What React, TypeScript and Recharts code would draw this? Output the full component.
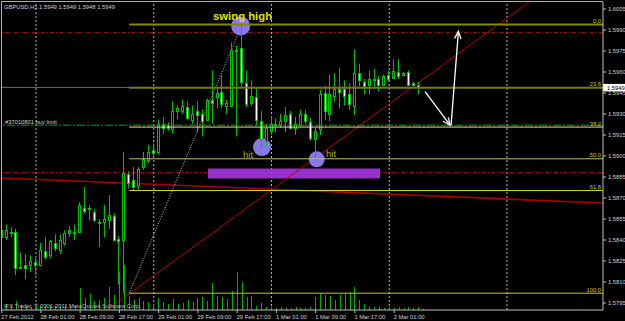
import React from 'react';
import { ComposedChart, Bar, XAxis, YAxis, ReferenceLine, ReferenceArea, ReferenceDot } from 'recharts';

// ---- data (hours since 27 Feb 2012 00:00, H1 bars) ----
const hours = [
  17, 18, 19, 20, 21, 22, 23, 24, 25, 26, 27, 28, 29, 30, 31, 32, 33, 34, 35, 36,
  37, 38, 39, 40, 41, 42, 43, 44, 45, 46, 47, 48, 49, 50, 51, 52, 53, 54, 55, 56,
  57, 58, 59, 60, 61, 62, 63, 64, 65, 66, 67, 68, 69, 70, 71, 72, 73, 74, 75, 76,
  77, 78, 79, 80, 81, 82, 83, 84, 85, 86, 87, 88, 89, 90, 91, 92, 93, 94, 95, 96,
  97, 98, 99, 100, 101, 102, 103,
];
const opens = [
  1.5847, 1.5842, 1.5845, 1.5846, 1.5820, 1.5822, 1.5822, 1.5824, 1.5822, 1.5832,
  1.5829, 1.5838, 1.5833, 1.5838, 1.5845, 1.5846, 1.5846, 1.5863, 1.5863, 1.5860,
  1.5853, 1.5853, 1.5854, 1.5857, 1.5841, 1.5840, 1.5887, 1.5883, 1.5879, 1.5892,
  1.5897, 1.5904, 1.5903, 1.5923, 1.5922, 1.5919, 1.5932, 1.5932, 1.5935, 1.5926,
  1.5932, 1.5930, 1.5926, 1.5940, 1.5942, 1.5946, 1.5936, 1.5936, 1.5976, 1.5977,
  1.5952, 1.5938, 1.5942, 1.5925, 1.5911, 1.5918, 1.5923, 1.5922, 1.5925, 1.5930,
  1.5920, 1.5922, 1.5930, 1.5924, 1.5912, 1.5919, 1.5945, 1.5930, 1.5943, 1.5948,
  1.5948, 1.5944, 1.5936, 1.5959, 1.5953, 1.5951, 1.5955, 1.5955, 1.5951, 1.5958,
  1.5956, 1.5960, 1.5958, 1.5960, 1.5952, 1.5951, 1.5949,
];
const highs = [
  1.5865, 1.5851, 1.5849, 1.5848, 1.5831, 1.5830, 1.5829, 1.5827, 1.5838, 1.5842,
  1.5840, 1.5844, 1.5844, 1.5847, 1.5850, 1.5851, 1.5867, 1.5878, 1.5865, 1.5862,
  1.5855, 1.5865, 1.5872, 1.5859, 1.5843, 1.5903, 1.5889, 1.5892, 1.5892, 1.5903,
  1.5908, 1.5909, 1.5926, 1.5928, 1.5924, 1.5939, 1.5936, 1.5940, 1.5939, 1.5936,
  1.5939, 1.5933, 1.5941, 1.5961, 1.5948, 1.5958, 1.5940, 1.5981, 1.5979, 1.5994,
  1.5961, 1.5954, 1.5948, 1.5932, 1.5923, 1.5928, 1.5927, 1.5930, 1.5935, 1.5932,
  1.5928, 1.5933, 1.5933, 1.5927, 1.5920, 1.5947, 1.5950, 1.5958, 1.5959, 1.5963,
  1.5954, 1.5952, 1.5976, 1.5966, 1.5955, 1.5961, 1.5962, 1.5957, 1.5958, 1.5961,
  1.5969, 1.5969, 1.5960, 1.5961, 1.5953, 1.5953, 1.5949,
];
const lows = [
  1.5840, 1.5840, 1.5842, 1.5815, 1.5819, 1.5812, 1.5817, 1.5815, 1.5821, 1.5826,
  1.5827, 1.5832, 1.5830, 1.5836, 1.5842, 1.5840, 1.5845, 1.5859, 1.5854, 1.5853,
  1.5835, 1.5842, 1.5848, 1.5839, 1.5808, 1.5802, 1.5877, 1.5875, 1.5876, 1.5890,
  1.5895, 1.5900, 1.5901, 1.5916, 1.5918, 1.5916, 1.5926, 1.5930, 1.5926, 1.5923,
  1.5917, 1.5914, 1.5925, 1.5923, 1.5934, 1.5934, 1.5930, 1.5935, 1.5914, 1.5949,
  1.5935, 1.5936, 1.5922, 1.5906, 1.5907, 1.5915, 1.5917, 1.5920, 1.5917, 1.5919,
  1.5915, 1.5921, 1.5923, 1.5911, 1.5897, 1.5915, 1.5926, 1.5925, 1.5939, 1.5934,
  1.5936, 1.5933, 1.5929, 1.5950, 1.5944, 1.5944, 1.5948, 1.5946, 1.5950, 1.5953,
  1.5955, 1.5955, 1.5957, 1.5950, 1.5950, 1.5944, 1.5948,
];
const closes = [
  1.5842, 1.5847, 1.5846, 1.5820, 1.5821, 1.5820, 1.5825, 1.5822, 1.5833, 1.5828,
  1.5839, 1.5834, 1.5840, 1.5845, 1.5847, 1.5845, 1.5865, 1.5861, 1.5862, 1.5854,
  1.5852, 1.5855, 1.5858, 1.5840, 1.5839, 1.5888, 1.5881, 1.5878, 1.5891, 1.5898,
  1.5903, 1.5902, 1.5923, 1.5920, 1.5920, 1.5932, 1.5934, 1.5936, 1.5927, 1.5930,
  1.5929, 1.5925, 1.5940, 1.5938, 1.5945, 1.5937, 1.5938, 1.5976, 1.5975, 1.5953,
  1.5937, 1.5943, 1.5926, 1.5912, 1.5920, 1.5923, 1.5922, 1.5925, 1.5929, 1.5920,
  1.5923, 1.5930, 1.5925, 1.5913, 1.5918, 1.5944, 1.5932, 1.5944, 1.5948, 1.5946,
  1.5943, 1.5937, 1.5959, 1.5954, 1.5950, 1.5955, 1.5954, 1.5951, 1.5957, 1.5955,
  1.5961, 1.5957, 1.5959, 1.5951, 1.5951, 1.5949, 1.5949,
];
const volumes = [
  210, 60, 40, 90, 50, 40, 30, 30, 50, 40, 50, 40, 40, 50, 30, 40, 220, 120, 160, 90,
  100, 120, 230, 150, 380, 450, 140, 100, 120, 90, 80, 60, 120, 80, 60, 110, 60, 70, 100, 80,
  120, 130, 90, 270, 140, 130, 110, 190, 380, 280, 130, 140, 40, 70, 30, 30, 20, 30, 20, 20,
  30, 20, 20, 30, 130, 170, 150, 140, 100, 150, 170, 180, 230, 100, 60, 40, 30, 30, 20, 30,
  20, 30, 20, 30, 20, 30, 10,
];

const timeTicks = [17, 25, 33, 41, 49, 57, 65, 73, 81, 89, 97];
const timeLabels = [
  '27 Feb 2012', '28 Feb 01:00', '28 Feb 09:00', '28 Feb 17:00', '29 Feb 01:00', '29 Feb 09:00',
  '29 Feb 17:00', '1 Mar 01:00', '1 Mar 09:00', '1 Mar 17:00', '2 Mar 01:00',
];
const priceTicks = [
  1.5795, 1.581, 1.5825, 1.584, 1.5855, 1.587, 1.5885, 1.59, 1.5915, 1.593, 1.5945, 1.596,
  1.5975, 1.599, 1.6005,
];
const dayStarts = [24, 48, 72, 96, 120];

// Fibonacci retracement anchors
const fibLowTime = 43;
const fibHighTime = 66;
const fibLow = 1.5802;
const fibHigh = 1.5994;
const fibRatios = [0, 23.6, 38.2, 50, 61.8, 100];
const fibColors = ['#8a8a00', '#7a7a0a', '#e0e096', '#bcbc6c', '#d4d428', '#c8c820'];
const fibWidths = [2, 2, 1, 1, 1, 1];

// Horizontal lines
const redLevels = [1.5988, 1.5888];
const buyLimit = 1.5922;
const bid = 1.5949;

// Other objects (time, price)
const trendLine = [{ x: 38, y: 1.57888 }, { x: 126, y: 1.60139 }];
const slowLine = [{ x: 17.07, y: 1.58843 }, { x: 139.57, y: 1.58664 }];
const zone = { x1: 59.06, x2: 94.12, y1: 1.5884, y2: 1.5891 };
const circles = [
  { x: 65.72, y: 1.59929, r: 9.5 },
  { x: 70.07, y: 1.59064, r: 9 },
  { x: 81.22, y: 1.58976, r: 8 },
];
const arrows = [
  [{ x: 103.3, y: 1.5946 }, { x: 108.4, y: 1.5922 }],
  [{ x: 108.6, y: 1.5922 }, { x: 110.1, y: 1.5989 }],
];
const notes = [
  { x: 66.1, y: 1.59975, text: 'swing high', kind: 'title' },
  { x: 66.19, y: 1.58986, text: 'hit', kind: 'hit' },
  { x: 83.11, y: 1.58993, text: 'hit', kind: 'hit' },
];

const xMin = 17.07;
const xMax = 139.57;

const data = hours.map((t, i) => ({
  t,
  open: opens[i],
  high: highs[i],
  low: lows[i],
  close: closes[i],
  range: [lows[i], highs[i]],
  vol: volumes[i],
}));

const FONT = "'Liberation Sans', Arial, sans-serif";
const WICK = '#00c000';
const TXT = '#d0d0d0';

const Candle = (props: any) => {
  const { x, y, width, height, payload } = props;
  if (!payload || !Number.isFinite(x) || !Number.isFinite(y)) return null;
  const { open, close, high, low } = payload;
  const c = Math.floor(x + width / 2);
  const span = high - low;
  const py = (v: number) => (span > 0 ? y + ((high - v) / span) * height : y);
  const top = Math.round(py(Math.max(open, close))) + 0.5;
  const bot = Math.round(py(Math.min(open, close))) + 0.5;
  const bull = close > open;
  return (
    <g>
      <line x1={c + 0.5} x2={c + 0.5} y1={y} y2={y + Math.max(height, 1)} stroke={WICK} strokeWidth={1} />
      {bot - top >= 1 ? (
        <rect x={c - 0.5} y={top} width={2} height={bot - top} fill={bull ? '#000' : '#fff'} stroke={WICK} strokeWidth={1} />
      ) : (
        <line x1={c - 1} x2={c + 2} y1={top} y2={top} stroke={WICK} strokeWidth={1} />
      )}
    </g>
  );
};

const VolBar = (props: any) => {
  const { x, y, width, height } = props;
  if (!Number.isFinite(x) || !Number.isFinite(y)) return null;
  const c = Math.floor(x + width / 2);
  return <rect x={c} y={y} width={1} height={Math.max(height, 0)} fill="#00b000" />;
};

const TimeTick = (props: any) => {
  const { x, y, payload } = props;
  const idx = timeTicks.indexOf(payload.value);
  return (
    <g>
      <line x1={x} x2={x} y1={y - 2} y2={y + 1} stroke="#c0c0c0" />
      <text x={x - 0.5} y={y + 6.8} fontSize={5.8} fill={TXT} fontFamily={FONT}>
        {timeLabels[idx]}
      </text>
    </g>
  );
};

const fibShape = (label: string, color: string, w: number) => (p: any) => (
  <g>
    <line x1={p.x1} y1={p.y1} x2={p.x2} y2={p.y2} stroke={color} strokeWidth={w} />
    <text x={p.x2 - 2} y={p.y1 - 1.5} textAnchor="end" fontSize={5.8} fill="#c8c800" fontFamily={FONT}>
      {label}
    </text>
  </g>
);

const arrowShape = (p: any) => {
  const { x1, y1, x2, y2 } = p;
  const a = Math.atan2(y2 - y1, x2 - x1);
  const L = 8;
  const s = 0.42;
  const ax = x2 - L * Math.cos(a - s);
  const ay = y2 - L * Math.sin(a - s);
  const bx = x2 - L * Math.cos(a + s);
  const by = y2 - L * Math.sin(a + s);
  return (
    <g>
      <line x1={x1} y1={y1} x2={x2} y2={y2} stroke="#ffffff" strokeWidth={1.3} />
      <polyline points={`${ax},${ay} ${x2},${y2} ${bx},${by}`} fill="none" stroke="#ffffff" strokeWidth={1.3} />
    </g>
  );
};

const noteShape = (text: string, kind: string) => (p: any) =>
  kind === 'title' ? (
    <text x={p.cx} y={p.cy} textAnchor="middle" fontSize={11.3} fontWeight="bold" fill="#e0e000" fontFamily={FONT}>
      {text}
    </text>
  ) : (
    <text x={p.cx} y={p.cy} textAnchor="start" fontSize={9.5} fill="#a8a818" fontFamily={FONT}>
      {text}
    </text>
  );

const OrderLabel = (props: any) => {
  const vb = props.viewBox || {};
  return (
    <text x={(vb.x || 0) + 3} y={(vb.y || 0) - 1.5} fontSize={5.8} fill={TXT} fontFamily={FONT}>
      #37010801 buy limit
    </text>
  );
};

const PriceBox = (props: any) => {
  const vb = props.viewBox || {};
  const rx = (vb.x || 0) + (vb.width || 0);
  const ry = vb.y || 0;
  return (
    <g>
      <rect x={rx} y={ry - 3.5} width={22} height={7.5} fill="#ffffff" />
      <text x={rx + 4} y={ry + 2.8} fontSize={5.8} fill="#000" fontFamily={FONT}>
        {bid.toFixed(4)}
      </text>
    </g>
  );
};

export default function App() {
  return (
    <div style={{ position: 'absolute', left: 0, top: 0, width: 625, height: 321, background: '#000', overflow: 'hidden' }}>
      <div
        style={{
          position: 'absolute',
          left: 1,
          top: 1,
          width: 602,
          height: 309,
          borderLeft: '1px solid #b0b0b0',
          borderTop: '1px solid #b0b0b0',
          boxSizing: 'border-box',
        }}
      />
      <div style={{ position: 'absolute', left: 0, top: 0 }}>
        <ComposedChart width={625} height={321} data={data} margin={{ top: 2, right: 0, bottom: 0, left: 2 }}>
          <XAxis
            xAxisId="t"
            type="number"
            dataKey="t"
            domain={[xMin, xMax]}
            allowDataOverflow
            ticks={timeTicks}
            interval={0}
            height={11}
            tickSize={2}
            tickMargin={0}
            axisLine={{ stroke: '#c0c0c0' }}
            tickLine={false}
            tick={<TimeTick />}
          />
          <XAxis xAxisId="v" type="number" dataKey="t" domain={[xMin, xMax]} allowDataOverflow hide />
          <YAxis
            yAxisId="price"
            orientation="right"
            type="number"
            domain={[1.579, 1.601]}
            allowDataOverflow
            ticks={priceTicks}
            interval={0}
            width={22}
            tickSize={3}
            tickMargin={2}
            axisLine={{ stroke: '#c0c0c0' }}
            tickLine={{ stroke: '#c0c0c0' }}
            tick={{ fontSize: 5.8, fill: TXT, fontFamily: FONT }}
            tickFormatter={(v: number) => v.toFixed(4)}
          />
          <YAxis yAxisId="vol" type="number" domain={[0, 3080]} allowDataOverflow hide />

          {dayStarts.map((d) => (
            <ReferenceLine key={'g' + d} xAxisId="t" yAxisId="price" x={d} stroke="#b4b4b4" strokeDasharray="2 2" ifOverflow="visible" zIndex={50} />
          ))}

          <ReferenceLine xAxisId="t" yAxisId="price" y={bid} stroke="#5f6f82" strokeWidth={1} ifOverflow="visible" label={<PriceBox />} />

          {redLevels.map((lv) => (
            <ReferenceLine key={'r' + lv} xAxisId="t" yAxisId="price" y={lv} stroke="#c41818" strokeDasharray="4 2 1 2" ifOverflow="visible" zIndex={50} />
          ))}

          <ReferenceLine
            xAxisId="t"
            yAxisId="price"
            y={buyLimit}
            stroke="#1a9a1a"
            strokeDasharray="8 2 2 2"
            ifOverflow="visible"
            label={<OrderLabel />}
          />

          <ReferenceLine xAxisId="t" yAxisId="price" segment={slowLine} stroke="#a80000" strokeWidth={1.6} ifOverflow="visible" zIndex={50} />

          {fibRatios.map((r, i) => {
            const lv = fibHigh - (r / 100) * (fibHigh - fibLow);
            return (
              <ReferenceLine
                key={'f' + r}
                xAxisId="t"
                yAxisId="price"
                segment={[{ x: fibLowTime, y: lv }, { x: xMax, y: lv }]}
                ifOverflow="visible"
                shape={fibShape(r.toFixed(1), fibColors[i], fibWidths[i])}
              />
            );
          })}

          <ReferenceLine
            xAxisId="t"
            yAxisId="price"
            segment={[{ x: fibLowTime, y: fibLow }, { x: fibHighTime, y: fibHigh }]}
            stroke="#c0c0c0"
            strokeDasharray="1 1.5"
            ifOverflow="visible"
            zIndex={50}
          />

          <ReferenceArea
            xAxisId="t"
            yAxisId="price"
            x1={zone.x1}
            x2={zone.x2}
            y1={zone.y1}
            y2={zone.y2}
            fill="#a436e0"
            fillOpacity={0.9}
            stroke="none"
            ifOverflow="visible"
            zIndex={60}
          />

          <ReferenceLine xAxisId="t" yAxisId="price" segment={trendLine} stroke="#b80000" strokeWidth={1} ifOverflow="hidden" zIndex={70} />

          {circles.map((c, i) => (
            <ReferenceDot key={'c' + i} xAxisId="t" yAxisId="price" x={c.x} y={c.y} r={c.r} fill="#8878e8" stroke="none" ifOverflow="visible" zIndex={80} />
          ))}

          <Bar xAxisId="v" yAxisId="vol" dataKey="vol" barSize={1} shape={VolBar} isAnimationActive={false} />
          <Bar xAxisId="t" yAxisId="price" dataKey="range" barSize={4} shape={Candle} isAnimationActive={false} />

          {arrows.map((seg, i) => (
            <ReferenceLine key={'a' + i} xAxisId="t" yAxisId="price" segment={seg} ifOverflow="visible" shape={arrowShape} />
          ))}

          {notes.map((n, i) => (
            <ReferenceDot
              key={'n' + i}
              xAxisId="t"
              yAxisId="price"
              x={n.x}
              y={n.y}
              r={1}
              ifOverflow="visible"
              shape={noteShape(n.text, n.kind)}
            />
          ))}
        </ComposedChart>
      </div>
      <svg width={625} height={321} style={{ position: 'absolute', left: 0, top: 0, pointerEvents: 'none' }}>
        <text x={4} y={8.5} fontSize={5.8} fill={TXT} fontFamily={FONT}>
          GBPUSD,H1  1.5949 1.5949 1.5948 1.5949
        </text>
        <text x={4} y={308} fontSize={5.8} fill="#c0c0c0" fontFamily={FONT}>
          IFX Trader, © 2001-2011 MetaQuotes Software Corp.
        </text>
      </svg>
    </div>
  );
}
